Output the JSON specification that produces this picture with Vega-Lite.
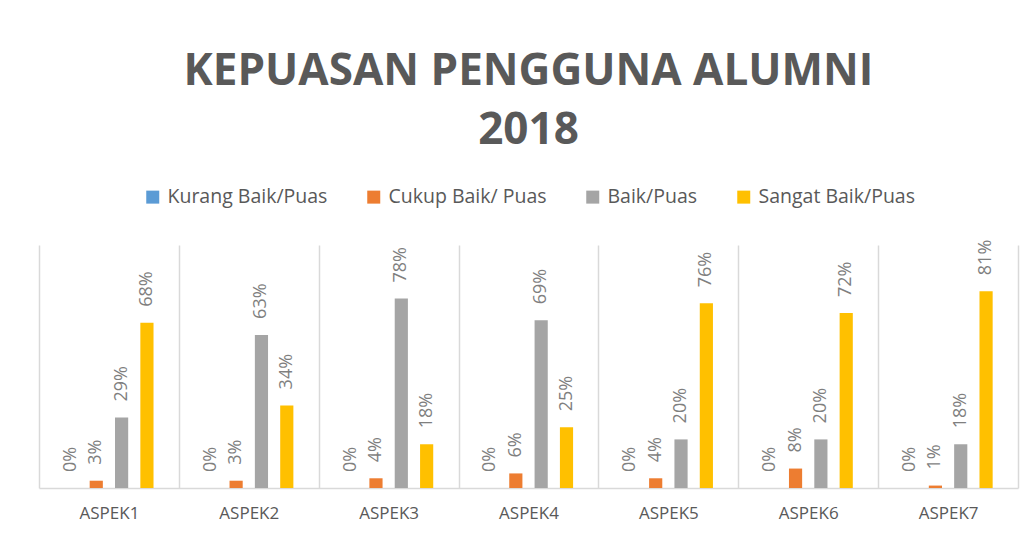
{
  "$schema": "https://vega.github.io/schema/vega-lite/v6.json",
  "width": 979,
  "height": 243,
  "autosize": {"type": "none"},
  "padding": {"left": 39, "top": 245, "right": 14, "bottom": 50},
  "background": "white",
  "title": {
    "text": ["KEPUASAN PENGGUNA ALUMNI", "2018"],
    "font": "Open Sans",
    "fontSize": 44,
    "fontWeight": "bold",
    "color": "#595959",
    "lineHeight": 59,
    "anchor": "middle",
    "offset": 34
  },
  "data": {
    "values": [
      {"aspek": "ASPEK1", "kategori": "Kurang Baik/Puas", "nilai": 0},
      {"aspek": "ASPEK1", "kategori": "Cukup Baik/ Puas", "nilai": 0.03},
      {"aspek": "ASPEK1", "kategori": "Baik/Puas", "nilai": 0.29},
      {"aspek": "ASPEK1", "kategori": "Sangat Baik/Puas", "nilai": 0.68},
      {"aspek": "ASPEK2", "kategori": "Kurang Baik/Puas", "nilai": 0},
      {"aspek": "ASPEK2", "kategori": "Cukup Baik/ Puas", "nilai": 0.03},
      {"aspek": "ASPEK2", "kategori": "Baik/Puas", "nilai": 0.63},
      {"aspek": "ASPEK2", "kategori": "Sangat Baik/Puas", "nilai": 0.34},
      {"aspek": "ASPEK3", "kategori": "Kurang Baik/Puas", "nilai": 0},
      {"aspek": "ASPEK3", "kategori": "Cukup Baik/ Puas", "nilai": 0.04},
      {"aspek": "ASPEK3", "kategori": "Baik/Puas", "nilai": 0.78},
      {"aspek": "ASPEK3", "kategori": "Sangat Baik/Puas", "nilai": 0.18},
      {"aspek": "ASPEK4", "kategori": "Kurang Baik/Puas", "nilai": 0},
      {"aspek": "ASPEK4", "kategori": "Cukup Baik/ Puas", "nilai": 0.06},
      {"aspek": "ASPEK4", "kategori": "Baik/Puas", "nilai": 0.69},
      {"aspek": "ASPEK4", "kategori": "Sangat Baik/Puas", "nilai": 0.25},
      {"aspek": "ASPEK5", "kategori": "Kurang Baik/Puas", "nilai": 0},
      {"aspek": "ASPEK5", "kategori": "Cukup Baik/ Puas", "nilai": 0.04},
      {"aspek": "ASPEK5", "kategori": "Baik/Puas", "nilai": 0.20},
      {"aspek": "ASPEK5", "kategori": "Sangat Baik/Puas", "nilai": 0.76},
      {"aspek": "ASPEK6", "kategori": "Kurang Baik/Puas", "nilai": 0},
      {"aspek": "ASPEK6", "kategori": "Cukup Baik/ Puas", "nilai": 0.08},
      {"aspek": "ASPEK6", "kategori": "Baik/Puas", "nilai": 0.20},
      {"aspek": "ASPEK6", "kategori": "Sangat Baik/Puas", "nilai": 0.72},
      {"aspek": "ASPEK7", "kategori": "Kurang Baik/Puas", "nilai": 0},
      {"aspek": "ASPEK7", "kategori": "Cukup Baik/ Puas", "nilai": 0.01},
      {"aspek": "ASPEK7", "kategori": "Baik/Puas", "nilai": 0.18},
      {"aspek": "ASPEK7", "kategori": "Sangat Baik/Puas", "nilai": 0.81}
    ]
  },
  "encoding": {
    "x": {
      "field": "aspek",
      "type": "nominal",
      "scale": {"paddingInner": 0, "paddingOuter": 0},
      "axis": {
        "title": null,
        "labelAngle": 0,
        "labelFont": "Open Sans",
        "labelFontSize": 17,
        "labelColor": "#595959",
        "labelPadding": 17,
        "ticks": false,
        "tickBand": "extent",
        "grid": true,
        "gridColor": "#d9d9d9",
        "gridWidth": 1.5,
        "domainColor": "#d9d9d9",
        "domainWidth": 1.5
      }
    },
    "xOffset": {
      "field": "kategori",
      "type": "nominal",
      "sort": ["Kurang Baik/Puas", "Cukup Baik/ Puas", "Baik/Puas", "Sangat Baik/Puas"],
      "scale": {"paddingInner": 0.48, "paddingOuter": 1.16}
    },
    "y": {
      "field": "nilai",
      "type": "quantitative",
      "scale": {"domain": [0, 1], "nice": false},
      "axis": null
    }
  },
  "layer": [
    {
      "mark": {"type": "bar"},
      "encoding": {
        "color": {
          "field": "kategori",
          "type": "nominal",
          "sort": ["Kurang Baik/Puas", "Cukup Baik/ Puas", "Baik/Puas", "Sangat Baik/Puas"],
          "scale": {
            "domain": ["Kurang Baik/Puas", "Cukup Baik/ Puas", "Baik/Puas", "Sangat Baik/Puas"],
            "range": ["#5b9bd5", "#ed7d31", "#a5a5a5", "#ffc000"]
          },
          "legend": {
            "title": null,
            "orient": "top",
            "direction": "horizontal",
            "symbolType": "square",
            "symbolSize": 169,
            "symbolStrokeWidth": 0,
            "labelFont": "Open Sans",
            "labelFontSize": 19.5,
            "labelColor": "#595959",
            "labelOffset": 5,
            "columnPadding": 36,
            "offset": 38
          }
        }
      }
    },
    {
      "mark": {
        "type": "text",
        "angle": 270,
        "align": "left",
        "baseline": "middle",
        "dx": 16,
        "font": "Open Sans",
        "fontSize": 18,
        "color": "#7f7f7f"
      },
      "encoding": {
        "text": {"field": "nilai", "type": "quantitative", "format": ".0%"}
      }
    }
  ],
  "config": {
    "view": {"stroke": null},
    "legend": {"layout": {"top": {"anchor": "middle"}}}
  }
}
